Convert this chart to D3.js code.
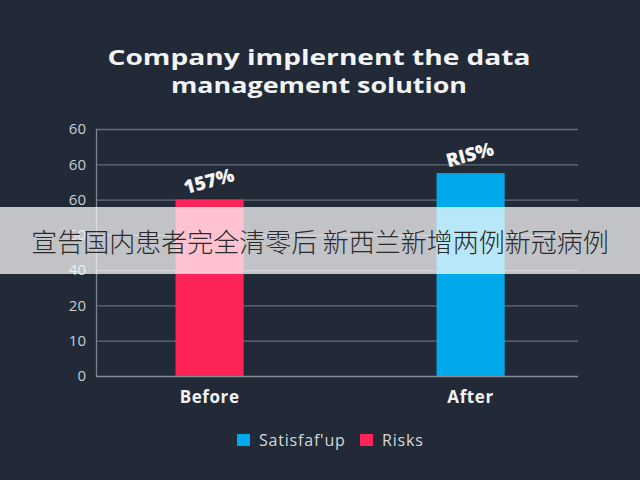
<!DOCTYPE html>
<html><head><meta charset="utf-8">
<script src="https://cdn.jsdelivr.net/npm/d3@7"></script>
<style>html,body{margin:0;padding:0;background:#222a37;}svg{display:block;}</style>
</head><body>
<svg id="c" width="640" height="480"></svg>
<script>
const titleLines = ["Company implernent the data", "management solution"];
const categories = ["Before", "After"];
const barSeries = ["Risks", "Satisfaf'up"];
const barValues = [50, 57.5];
const barLabels = ["157%", "RIS%"];
const yTickValues = [0, 10, 20, 30, 40, 50, 60, 70];
const yTickLabels = ["0", "10", "20", "40", "50", "60", "60", "60"];
const legendItems = ["Satisfaf'up", "Risks"];
const overlayText = "宣告国内患者完全清零后 新西兰新增两例新冠病例";

const colors = {"Satisfaf'up": "#00a9e9", "Risks": "#ff2457"};
const svg = d3.select("#c");
svg.append("rect").attr("width", 640).attr("height", 480).attr("fill", "#222a37");

const font = "'Open Sans', Lato, sans-serif";
const titleWidths = [423, 296];
svg.selectAll("text.title").data(titleLines).join("text")
  .attr("x", 319).attr("y", (d, i) => 65 + i * 28)
  .attr("text-anchor", "middle").attr("fill", "#f2f3f5")
  .attr("textLength", (d, i) => titleWidths[i]).attr("lengthAdjust", "spacingAndGlyphs")
  .style("font-family", font).style("font-weight", 700).style("font-size", "22px")
  .text(d => d);

const y = d3.scaleLinear().domain([0, 70]).range([376, 129]);
const x = d3.scaleBand().domain(categories).range([115.5, 564.7]).paddingInner(0.739).paddingOuter(0.23);

// grid
const gridG = svg.append("g").attr("transform", "translate(96,0)");
gridG.call(d3.axisLeft(y).tickValues(yTickValues).tickSize(-482).tickFormat((d, i) => yTickLabels[i]));
gridG.select(".domain").remove();
gridG.selectAll(".tick line").attr("stroke", "#646d79").attr("stroke-width", 1.3);
gridG.selectAll(".tick text").attr("fill", "#c9cdd3").attr("x", -10)
  .style("font-family", font).style("font-size", "15px");
gridG.selectAll(".tick").filter(d => d === 0).select("line").attr("stroke", "#858c96");
svg.append("line").attr("x1", 96.5).attr("x2", 96.5).attr("y1", y(70)).attr("y2", y(0))
  .attr("stroke", "#7e8590").attr("stroke-width", 1.3);

// bars
svg.selectAll("rect.bar").data(categories).join("rect")
  .attr("x", d => x(d)).attr("width", x.bandwidth())
  .attr("y", (d, i) => y(barValues[i])).attr("height", (d, i) => y(0) - y(barValues[i]))
  .attr("fill", (d, i) => colors[barSeries[i]]);

// value labels
svg.selectAll("text.vl").data(categories).join("text")
  .attr("transform", (d, i) => `translate(${x(d) + x.bandwidth() / 2 + 1},${y(barValues[i]) - 12}) rotate(-15)`)
  .attr("text-anchor", "middle").attr("fill", "#f5f5f5")
  .style("font-family", font).style("font-weight", 800).style("font-size", "19px")
  .text((d, i) => barLabels[i]);

// category labels
svg.selectAll("text.cat").data(categories).join("text")
  .attr("x", d => x(d) + x.bandwidth() / 2).attr("y", 403)
  .attr("text-anchor", "middle").attr("fill", "#f2f3f5")
  .style("font-family", font).style("font-weight", 700).style("font-size", "17px")
  .style("letter-spacing", "0.6px")
  .text(d => d);

// legend
const legX = [237, 360];
const lg = svg.selectAll("g.leg").data(legendItems).join("g").attr("transform", (d, i) => `translate(${legX[i]},434)`);
lg.append("rect").attr("width", 13).attr("height", 12).attr("fill", d => colors[d]);
lg.append("text").attr("x", 22).attr("y", 12).attr("fill", "#d5d8dc")
  .style("font-family", font).style("font-size", "16px").style("letter-spacing", "0.8px").text(d => d);

// overlay caption
svg.append("rect").attr("x", 0).attr("y", 207).attr("width", 640).attr("height", 67)
  .attr("fill", "#ffffff").attr("opacity", 0.72);
svg.append("text").attr("x", 320).attr("y", 252).attr("text-anchor", "middle")
  .attr("fill", "#2a2a2a").style("font-family", "'Noto Sans CJK SC', sans-serif")
  .style("font-weight", 300).style("font-size", "26px").text(overlayText);
</script>
</body></html>
